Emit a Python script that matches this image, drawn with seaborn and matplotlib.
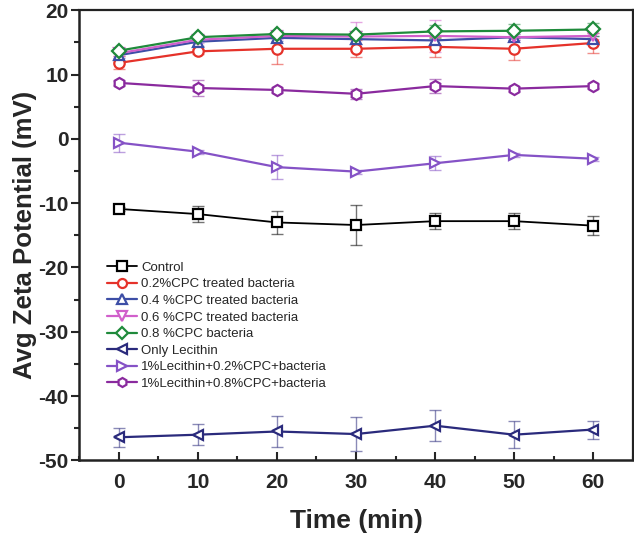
import numpy as np
import pandas as pd
import matplotlib
matplotlib.use("Agg")
import matplotlib.pyplot as plt
import seaborn as sns
from matplotlib.ticker import MultipleLocator

time = [0, 10, 20, 30, 40, 50, 60]

labels = ["Control", "0.2%CPC treated bacteria", "0.4 %CPC treated bacteria",
          "0.6 %CPC treated bacteria", "0.8 %CPC bacteria", "Only Lecithin",
          "1%Lecithin+0.2%CPC+bacteria", "1%Lecithin+0.8%CPC+bacteria"]

control = [-10.9, -11.7, -13.0, -13.4, -12.8, -12.8, -13.5]
cpc02 = [11.8, 13.6, 14.0, 14.0, 14.3, 14.0, 14.9]
cpc04 = [13.0, 15.1, 15.7, 15.5, 15.3, 15.8, 15.5]
cpc06 = [13.3, 15.4, 16.0, 15.9, 16.0, 15.8, 16.0]
cpc08 = [13.7, 15.8, 16.3, 16.2, 16.7, 16.8, 17.0]
lecithin = [-46.4, -46.0, -45.5, -45.9, -44.6, -46.0, -45.2]
lec_cpc02 = [-0.6, -2.0, -4.4, -5.1, -3.8, -2.5, -3.1]
lec_cpc08 = [8.7, 7.9, 7.6, 7.0, 8.2, 7.8, 8.2]

control_err = [0.3, 1.2, 1.8, 3.1, 1.2, 1.2, 1.5]
cpc02_err = [1.0, 0.4, 2.3, 1.3, 1.6, 1.7, 1.6]
cpc04_err = [0.4, 0.6, 0.5, 0.7, 0.7, 0.5, 0.5]
cpc06_err = [0.4, 0.5, 0.5, 2.2, 2.5, 0.5, 0.5]
cpc08_err = [0.4, 0.4, 0.4, 0.5, 1.0, 1.0, 1.0]
lecithin_err = [1.5, 1.6, 2.4, 2.6, 2.4, 2.1, 1.4]
lec_cpc02_err = [1.4, 0.3, 1.9, 0.3, 1.1, 0.3, 0.3]
lec_cpc08_err = [0.3, 1.3, 0.3, 0.8, 1.1, 0.3, 0.3]

series = [control, cpc02, cpc04, cpc06, cpc08, lecithin, lec_cpc02, lec_cpc08]
errors = [control_err, cpc02_err, cpc04_err, cpc06_err, cpc08_err,
          lecithin_err, lec_cpc02_err, lec_cpc08_err]
colors = ["#000000", "#e5322a", "#3d4ea6", "#d15fcb", "#1f8a3b",
          "#2a2a7c", "#8552c6", "#8a2a9e"]
markers = ["s", "o", "^", "v", "D", "<", ">", "h"]
msizes = [6.5, 7.5, 7, 7, 7, 7.5, 7.5, 8]

rows = []
for lab, vals, errs in zip(labels, series, errors):
    for t, v, e in zip(time, vals, errs):
        rows.append({"Time": t, "Zeta": v, "Err": e, "Sample": lab})
df = pd.DataFrame(rows)

sns.set_theme(style="ticks")
plt.rcParams["font.family"] = ["Liberation Sans", "DejaVu Sans"]
plt.rcParams["axes.unicode_minus"] = False

fig = plt.figure(figsize=(6.34, 5.36), dpi=100)
ax = fig.add_axes([0.125, 0.141, 0.873, 0.840])

for lab, col in zip(labels, colors):
    sub = df[df["Sample"] == lab]
    ax.errorbar(sub["Time"], sub["Zeta"], yerr=sub["Err"], fmt="none",
                ecolor=col, alpha=0.55, elinewidth=1.0, capsize=4, capthick=1.0,
                zorder=2)

for lab, col, mk, ms in zip(labels, colors, markers, msizes):
    sub = df[df["Sample"] == lab]
    lw = 1.3 if lab == "Control" else 1.6
    sns.lineplot(data=sub, x="Time", y="Zeta", ax=ax, color=col, marker=mk,
                 markersize=ms, markerfacecolor="white", markeredgecolor=col,
                 markeredgewidth=1.6, linewidth=lw, label=lab, zorder=3,
                 errorbar=None)

ax.set_xlim(-5, 65)
ax.set_ylim(-50, 20)
ax.xaxis.set_major_locator(MultipleLocator(10))
ax.xaxis.set_minor_locator(MultipleLocator(5))
ax.yaxis.set_major_locator(MultipleLocator(10))
ax.yaxis.set_minor_locator(MultipleLocator(5))
ax.tick_params(axis="x", which="major", direction="in", length=6, width=1.5, pad=9)
ax.tick_params(axis="x", which="minor", direction="in", length=3, width=1.5)
ax.tick_params(axis="y", which="major", direction="out", length=5.5, width=1.5, pad=2)
ax.tick_params(axis="y", which="minor", direction="out", length=3.5, width=1.5)
ax.tick_params(axis="both", labelsize=15)
for lbl in ax.get_xticklabels() + ax.get_yticklabels():
    lbl.set_fontweight("bold")
for side in ["left", "bottom"]:
    ax.spines[side].set_linewidth(1.8)
for side in ["top", "right"]:
    ax.spines[side].set_linewidth(1.6)
    ax.spines[side].set_visible(True)
for sp in ax.spines.values():
    sp.set_color("#222222")

ax.set_xlabel("Time (min)", fontsize=19, fontweight="bold", labelpad=12)
ax.set_ylabel("Avg Zeta Potential (mV)", fontsize=18.5, fontweight="bold", labelpad=1)

leg = ax.legend(loc="upper left", bbox_to_anchor=(0.033, 0.462), frameon=False,
                fontsize=9.5, handlelength=2.3, handletextpad=0.3,
                labelspacing=0.33, borderaxespad=0.3)
for h in leg.legend_handles:
    h.set_markersize(6.5)

fig.savefig("out.png", dpi=100)
